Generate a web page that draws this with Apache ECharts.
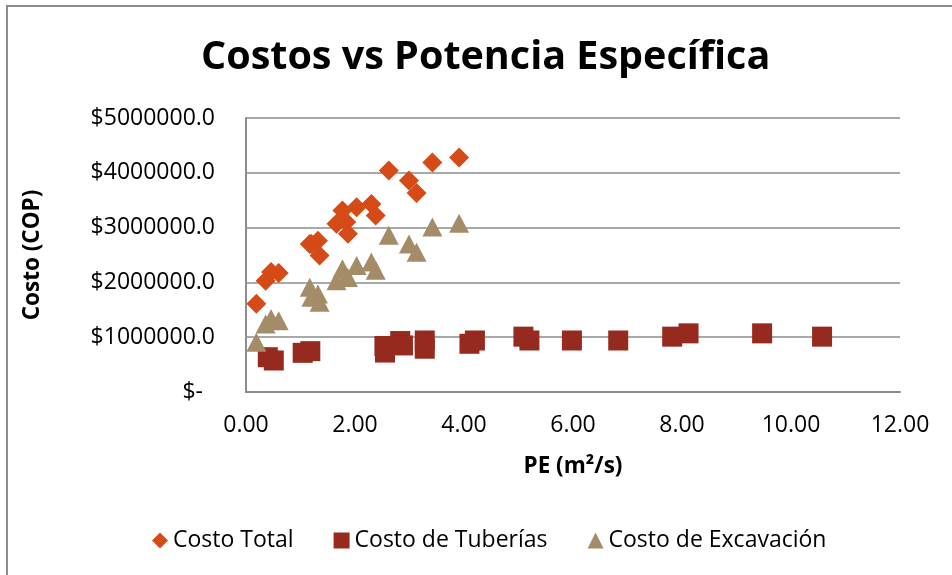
<!DOCTYPE html>
<html>
<head>
<meta charset="utf-8">
<script src="https://cdn.jsdelivr.net/npm/echarts@6/dist/echarts.min.js"></script>
<style>
  html, body { margin: 0; padding: 0; background: #ffffff; }
  #chart { width: 952px; height: 575px; }
</style>
</head>
<body>
<div id="chart"></div>
<script>
// Specific power (m²/s) shared by total and excavation cost
const peObra = [0.19, 0.36, 0.46, 0.60, 1.17, 1.20, 1.32, 1.35, 1.66, 1.77, 1.84, 1.87, 2.03, 2.30, 2.38, 2.62, 2.99, 3.13, 3.42, 3.91];
const costoTotal = [1610000, 2030000, 2190000, 2170000, 2700000, 2700000, 2760000, 2490000, 3070000, 3310000, 3100000, 2890000, 3370000, 3430000, 3220000, 4040000, 3860000, 3630000, 4190000, 4280000];
const costoExcavacion = [910000, 1240000, 1340000, 1300000, 1910000, 1730000, 1790000, 1640000, 2030000, 2250000, 2090000, 2090000, 2310000, 2370000, 2220000, 2860000, 2700000, 2550000, 3010000, 3080000];

// Specific power (m²/s) and pipe cost
const peTuberias = [0.40, 0.51, 1.04, 1.18, 2.54, 2.55, 2.83, 2.88, 3.28, 3.28, 4.10, 4.20, 5.09, 5.20, 5.98, 6.83, 7.82, 8.12, 9.47, 10.57];
const costoTuberias = [635000, 575000, 715000, 745000, 840000, 720000, 930000, 850000, 940000, 790000, 880000, 940000, 1010000, 940000, 940000, 940000, 1010000, 1070000, 1070000, 1010000];

const seriesNames = ['Costo Total', 'Costo de Tuberías', 'Costo de Excavación'];
const titleText = 'Costos vs Potencia Específica';
const xAxisName = 'PE (m²/s)';
const yAxisName = 'Costo (COP)';

const pairs = (xs, ys) => xs.map((x, i) => [x, ys[i]]);

const FONT = 'Open Sans';
const axisGray = '#8c8c8c';
const LABEL_SIZE = 23;

const chart = echarts.init(document.getElementById('chart'), null, { renderer: 'canvas' });

chart.setOption({
  backgroundColor: '#ffffff',
  animation: false,
  title: {
    text: titleText,
    left: 196,
    top: 33,
    textStyle: { fontFamily: FONT, fontWeight: 'bold', fontSize: 39.5, color: '#000000' }
  },
  grid: { left: 246, right: 52, top: 118, bottom: 183, containLabel: false },
  xAxis: {
    type: 'value',
    min: 0, max: 12, interval: 2,
    name: xAxisName,
    nameLocation: 'middle',
    nameGap: 63,
    nameTextStyle: { fontFamily: FONT, fontWeight: 'bold', fontSize: 22.5, color: '#000000' },
    axisLine: { show: true, lineStyle: { color: axisGray, width: 2 } },
    axisTick: { show: false },
    splitLine: { show: false },
    axisLabel: {
      margin: 22,
      fontFamily: FONT, fontSize: LABEL_SIZE, color: '#000000',
      formatter: v => v.toFixed(2)
    }
  },
  yAxis: {
    type: 'value',
    min: 0, max: 5000000, interval: 1000000,
    name: yAxisName,
    nameLocation: 'middle',
    nameGap: 202,
    nameTextStyle: { fontFamily: FONT, fontWeight: 'bold', fontSize: 22.5, color: '#000000' },
    axisLine: { show: true, lineStyle: { color: axisGray, width: 2 } },
    axisTick: { show: false },
    splitLine: { show: true, lineStyle: { color: axisGray, width: 1.5 } },
    axisLabel: {
      margin: 31,
      fontFamily: FONT, fontSize: LABEL_SIZE, color: '#000000',
      formatter: v => (v === 0 ? '{z|$-}' : '$' + v + '.0'),
      rich: { z: { fontFamily: FONT, fontSize: LABEL_SIZE, color: '#000000', padding: [0, 12, 0, 0] } }
    }
  },
  legend: {
    bottom: 18,
    left: 147,
    itemGap: 40,
    itemWidth: 16,
    itemHeight: 16,
    textStyle: { fontFamily: FONT, fontSize: LABEL_SIZE, color: '#000000' },
    data: [
      { name: seriesNames[0], icon: 'diamond' },
      { name: seriesNames[1], icon: 'rect' },
      { name: seriesNames[2], icon: 'triangle' }
    ]
  },
  series: [
    {
      name: seriesNames[0],
      type: 'scatter',
      symbol: 'diamond',
      symbolSize: 20,
      itemStyle: { color: '#d64a17', opacity: 1 },
      data: pairs(peObra, costoTotal)
    },
    {
      name: seriesNames[1],
      type: 'scatter',
      symbol: 'rect',
      symbolSize: 20,
      itemStyle: { color: '#962a1e', opacity: 1 },
      data: pairs(peTuberias, costoTuberias)
    },
    {
      name: seriesNames[2],
      type: 'scatter',
      symbol: 'triangle',
      symbolSize: [20, 19],
      itemStyle: { color: '#a58c69', opacity: 1 },
      data: pairs(peObra, costoExcavacion)
    }
  ],
  graphic: [
    { type: 'line', shape: { x1: 7, y1: 6, x2: 7, y2: 575 }, style: { stroke: axisGray, lineWidth: 2 } },
    { type: 'line', shape: { x1: 6, y1: 6, x2: 952, y2: 6 }, style: { stroke: axisGray, lineWidth: 2 } }
  ]
});
</script>
</body>
</html>
